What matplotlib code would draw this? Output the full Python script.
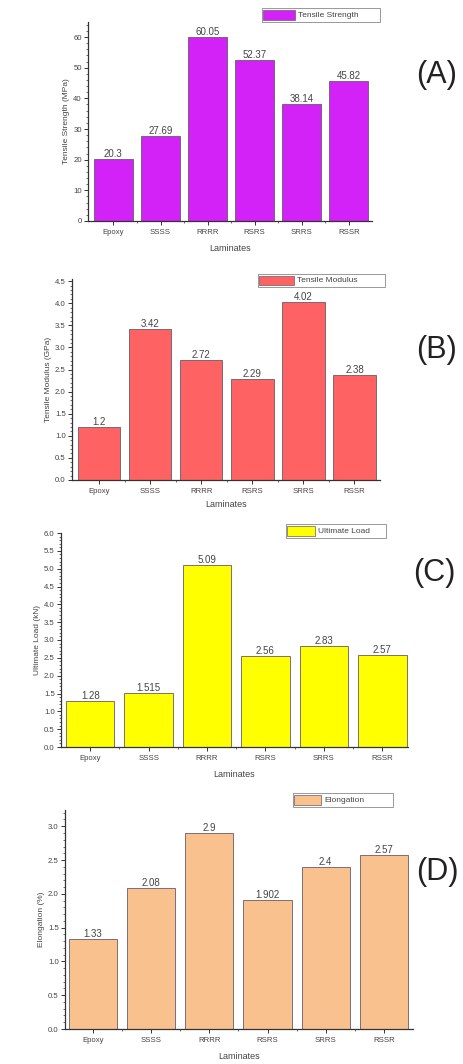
import matplotlib
matplotlib.use("Agg")
import matplotlib.pyplot as plt
from matplotlib.ticker import MultipleLocator, FixedLocator, FuncFormatter
import numpy as np

plt.rcParams['font.family'] = ['Liberation Sans', 'DejaVu Sans']

laminates = ["Epoxy", "SSSS", "RRRR", "RSRS", "SRRS", "RSSR"]

tensile_strength = [20.3, 27.69, 60.05, 52.37, 38.14, 45.82]
tensile_modulus = [1.2, 3.42, 2.72, 2.29, 4.02, 2.38]
ultimate_load = [1.28, 1.515, 5.09, 2.56, 2.83, 2.57]
elongation = [1.33, 2.08, 2.9, 1.902, 2.4, 2.57]

strength_labels = ["20.3", "27.69", "60.05", "52.37", "38.14", "45.82"]
modulus_labels = ["1.2", "3.42", "2.72", "2.29", "4.02", "2.38"]
load_labels = ["1.28", "1.515", "5.09", "2.56", "2.83", "2.57"]
elong_labels = ["1.33", "2.08", "2.9", "1.902", "2.4", "2.57"]

W, H = 463, 1064
fig = plt.figure(figsize=(W / 100, H / 100), dpi=100)

TXT = "#444444"
EDGE = "#6a5a6a"

panels = [
    dict(vals=tensile_strength, labs=strength_labels, color="#D222F7",
         ylabel="Tensile Strength (MPa)", legend="Tensile Strength", tag="(A)",
         box=(88, 372, 22, 221), ylim=(0, 64.9), major=10, minor=2,
         xlim=(-0.54, 5.49), leg=(261, 7, 380, 22), tagpos=(437, 75), fmt="{:.0f}",
         xpad=5.5),
    dict(vals=tensile_modulus, labs=modulus_labels, color="#FF6262",
         ylabel="Tensile Modulus (GPa)", legend="Tensile Modulus", tag="(B)",
         box=(72, 380, 279, 480), ylim=(0, 4.55), major=0.5, minor=0.1,
         xlim=(-0.53, 5.5), leg=(257, 273, 385, 287), tagpos=(437, 350), fmt="{:.1f}",
         xpad=3.5),
    dict(vals=ultimate_load, labs=load_labels, color="#FFFF00",
         ylabel="Ultimate Load (kN)", legend="Ultimate Load", tag="(C)",
         box=(61, 408, 533, 747), ylim=(0, 6.0), major=0.5, minor=0.1,
         xlim=(-0.5, 5.44), leg=(285, 523, 387, 538), tagpos=(434, 573), fmt="{:.1f}",
         xpad=5.5),
    dict(vals=elongation, labs=elong_labels, color="#F9C18E",
         ylabel="Elongation (%)", legend="Elongation", tag="(D)",
         box=(65, 413, 810, 1029), ylim=(0, 3.24), major=0.5, minor=0.1,
         xlim=(-0.48, 5.5), leg=(292, 792, 393, 807), tagpos=(437, 872), fmt="{:.1f}",
         xpad=5.5),
]

x = np.arange(len(laminates))

for p in panels:
    l, r, t, b = p["box"]
    ax = fig.add_axes([l / W, 1 - b / H, (r - l) / W, (b - t) / H])
    ax.bar(x, p["vals"], width=0.83, color=p["color"], edgecolor=EDGE,
           linewidth=0.6, zorder=2)
    for xi, v, s in zip(x, p["vals"], p["labs"]):
        ax.text(xi, v, s, ha="center", va="bottom", fontsize=7, color=TXT)
    ax.set_xlim(*p["xlim"])
    ax.set_ylim(*p["ylim"])
    ax.set_xticks(x)
    ax.set_xticklabels(laminates)
    ax.xaxis.set_minor_locator(FixedLocator(x[:-1] + 0.5))
    ax.yaxis.set_major_locator(MultipleLocator(p["major"]))
    ax.yaxis.set_minor_locator(MultipleLocator(p["minor"]))
    ax.yaxis.set_major_formatter(FuncFormatter(
        lambda v, pos, f=p["fmt"]: f.format(v)))
    for side in ("top", "right"):
        ax.spines[side].set_visible(False)
    for side in ("left", "bottom"):
        ax.spines[side].set_linewidth(0.9)
        ax.spines[side].set_color("#333333")
    ax.tick_params(axis="both", which="major", direction="out", length=3,
                   width=0.7, labelsize=5.6, colors="#333333",
                   labelcolor=TXT)
    ax.tick_params(axis="x", which="major", pad=3)
    ax.tick_params(axis="y", which="major", pad=1.5)
    ax.tick_params(axis="both", which="minor", direction="out", length=1.6,
                   width=0.5, colors="#333333")
    ax.set_xlabel("Laminates", fontsize=6.5, color=TXT, labelpad=p["xpad"])
    ax.set_ylabel(p["ylabel"], fontsize=6, color=TXT, labelpad=2)

    # legend box placed in figure pixel coordinates
    x0, y0, x1, y1 = p["leg"]
    lax = fig.add_axes([x0 / W, 1 - y1 / H, (x1 - x0) / W, (y1 - y0) / H])
    lax.set_xlim(x0, x1)
    lax.set_ylim(y1, y0)
    lax.axis("off")
    lax.add_patch(plt.Rectangle((x0 + 0.5, y0 + 0.5), x1 - x0 - 1, y1 - y0 - 1,
                                facecolor="white", edgecolor="#888888",
                                linewidth=0.6, clip_on=False))
    sw = 0.27 * (x1 - x0)
    lax.add_patch(plt.Rectangle((x0 + 2, y0 + 2.5), sw, (y1 - y0) - 5,
                                facecolor=p["color"], edgecolor=EDGE,
                                linewidth=0.5, clip_on=False))
    lax.text(x0 + sw + 5, (y0 + y1) / 2, p["legend"], ha="left",
             va="center_baseline", fontsize=6, color=TXT)

    fig.text(p["tagpos"][0] / W, 1 - p["tagpos"][1] / H, p["tag"], ha="center",
             va="center", fontsize=22, color="#222222")

fig.savefig("out.png", dpi=100, facecolor="white")
